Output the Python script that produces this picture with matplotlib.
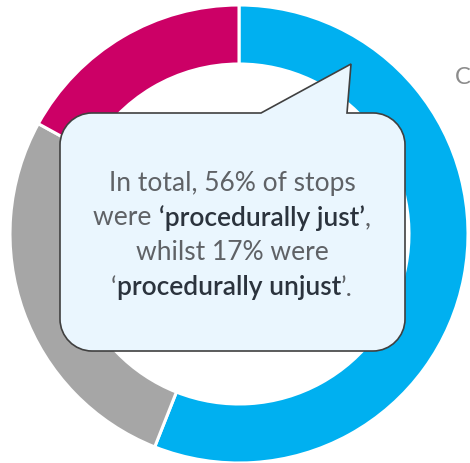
import numpy as np
import matplotlib
matplotlib.use('Agg')
import matplotlib.pyplot as plt
from matplotlib.path import Path
from matplotlib.patches import PathPatch

# share of stops
labels = ['Procedurally just', 'Neither', 'Procedurally unjust']
shares = [56, 27, 17]
colors = ['#00B0F0', '#A6A6A6', '#CC0066']

# callout text, (text, bold) pieces per line
callout_lines = [
    [('In total, 56% of stops', False)],
    [('were ', False), ('\u2018procedurally just\u2019', True), (',', False)],
    [('whilst 17% were', False)],
    [('\u2018', False), ('procedurally unjust', True), ('\u2019.', False)],
]

W, H = 470, 464
fig = plt.figure(figsize=(W / 100, H / 100), dpi=100)
ax = fig.add_axes([0, 0, 1, 1])

# donut, image coords -> y up
cx, cy = 239, H - 235
ax.pie(shares, colors=colors, startangle=90, counterclock=False,
       center=(cx, cy), radius=229,
       wedgeprops=dict(width=59, edgecolor='white', linewidth=2.2))
ax.set_xlim(0, W)
ax.set_ylim(0, H)
ax.set_aspect('auto')
ax.axis('off')


def iy(y):
    return H - y


# speech bubble path
x0, x1, y0, y1, r = 60, 405, 114, 352, 32
k = 0.55 * r
verts = [
    (x0 + r, y0), (261, y0), (351, 65), (347, y0), (x1 - r, y0),
    (x1 - r + k, y0), (x1, y0 + r - k), (x1, y0 + r),
    (x1, y1 - r),
    (x1, y1 - r + k), (x1 - r + k, y1), (x1 - r, y1),
    (x0 + r, y1),
    (x0 + r - k, y1), (x0, y1 - r + k), (x0, y1 - r),
    (x0, y0 + r),
    (x0, y0 + r - k), (x0 + r - k, y0), (x0 + r, y0),
]
codes = [Path.MOVETO, Path.LINETO, Path.LINETO, Path.LINETO, Path.LINETO,
         Path.CURVE4, Path.CURVE4, Path.CURVE4,
         Path.LINETO,
         Path.CURVE4, Path.CURVE4, Path.CURVE4,
         Path.LINETO,
         Path.CURVE4, Path.CURVE4, Path.CURVE4,
         Path.LINETO,
         Path.CURVE4, Path.CURVE4, Path.CURVE4]
verts = [(x, iy(y)) for x, y in verts]
bubble = PathPatch(Path(verts, codes), facecolor='#EAF6FE',
                   edgecolor='#404040', linewidth=1.2, zorder=5)
ax.add_patch(bubble)

# callout text, pieces laid out side by side
fsize = 19
renderer = fig.canvas.get_renderer()
line_y = [183, 218, 253, 288]
text_cx = 232
for pieces, y in zip(callout_lines, line_y):
    objs = []
    for txt, bold in pieces:
        t = ax.text(0, iy(y), txt, fontsize=fsize, family='Lato',
                    weight='semibold' if bold else 'normal',
                    color='#2B333D' if bold else '#5F6266',
                    ha='left', va='center', zorder=6)
        objs.append(t)
    widths = [t.get_window_extent(renderer).width for t in objs]
    x = text_cx - sum(widths) / 2
    for t, w in zip(objs, widths):
        t.set_x(x)
        x += w

# legend text cut off at the right edge
ax.text(455, iy(78), 'C', fontsize=17, family='Lato',
        color='#8C8C8C', ha='left', va='center')

fig.savefig('out.png', dpi=100)
